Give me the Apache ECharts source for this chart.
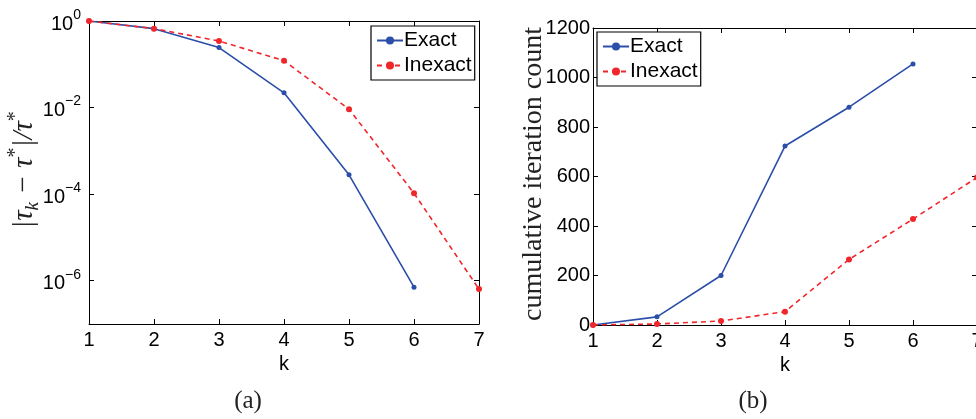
<!DOCTYPE html>
<html>
<head>
<meta charset="utf-8">
<script src="https://cdn.jsdelivr.net/npm/echarts@6/dist/echarts.min.js"></script>
<style>html,body{margin:0;padding:0;background:#fff}#c{width:976px;height:419px}</style>
</head>
<body>
<div id="c"></div>
<script>
// ---- data ----
var kExact = [1, 2, 3, 4, 5, 6];
var kInexact = [1, 2, 3, 4, 5, 6, 7];
var errExact = [1, 0.665, 0.243, 0.0219, 2.8e-4, 7.1e-7];
var errInexact = [1, 0.665, 0.346, 0.121, 0.0092, 1.05e-4, 6.4e-7];
var iterExact = [0, 33, 200, 723, 880, 1055];
var iterInexact = [0, 4, 16, 54, 265, 428, 596];
var logTicks = [1e-6, 1e-4, 1e-2, 1];
var seriesNames = ['Exact', 'Inexact'];
var yTitleRight = 'cumulative iteration count';
var captions = ['(a)', '(b)'];

function pairs(xs, ys) { return xs.map(function (x, i) { return [x, ys[i]]; }); }

var BLUE = '#2b4ea8', RED = '#f0262b';
var SANS = 'Liberation Sans', SERIF = 'Liberation Serif';
var lblFont = { fontFamily: SANS, fontSize: 20, color: '#000' };

function xAx(gi, pos, show) {
  return {
    type: 'value', gridIndex: gi, position: pos, min: 1, max: 7, interval: 1,
    axisLine: { show: true, onZero: false, lineStyle: { color: '#000', width: 1 } },
    axisTick: { show: true, inside: true, length: 5, lineStyle: { color: '#000' } },
    splitLine: { show: false },
    axisLabel: Object.assign({ show: show, margin: 6 }, lblFont),
    name: show ? 'k' : '', nameLocation: 'middle', nameGap: 24,
    nameTextStyle: { fontFamily: SANS, fontSize: 20, color: '#000' }
  };
}

var yLeftBase = {
  type: 'log', logBase: 10, min: 1e-7, max: 1,
  axisLine: { show: true, onZero: false, lineStyle: { color: '#000', width: 1 } },
  axisTick: { show: true, inside: true, length: 5, customValues: logTicks, lineStyle: { color: '#000' } },
  splitLine: { show: false }, minorTick: { show: false }
};
var yLeft = Object.assign({}, yLeftBase, {
  gridIndex: 0, position: 'left',
  axisLabel: {
    show: true, margin: 8, customValues: logTicks,
    formatter: function (v) {
      var e = Math.round(Math.log10(v));
      return '{b|10}{e|' + (e < 0 ? '\u2212' + (-e) : e) + '}';
    },
    rich: {
      b: { fontFamily: SANS, fontSize: 20, color: '#000', verticalAlign: 'bottom', lineHeight: 26 },
      e: { fontFamily: SANS, fontSize: 14, color: '#000', verticalAlign: 'top', lineHeight: 26, padding: [0, 0, 12, 0] }
    }
  }
});
var yLeftR = Object.assign({}, yLeftBase, { gridIndex: 0, position: 'right', axisLabel: { show: false } });

function yLin(gi, pos, show) {
  return {
    type: 'value', gridIndex: gi, position: pos, min: 0, max: 1200, interval: 200,
    axisLine: { show: true, onZero: false, lineStyle: { color: '#000', width: 1 } },
    axisTick: { show: true, inside: true, length: 5, lineStyle: { color: '#000' } },
    splitLine: { show: false },
    axisLabel: Object.assign({ show: show, margin: 3, formatter: function (v) { return String(v); } }, lblFont)
  };
}

function legend(left, top) {
  return {
    orient: 'vertical', left: left, top: top, data: seriesNames,
    backgroundColor: '#fff', borderColor: '#000', borderWidth: 1.2,
    padding: [3, 3, 3, 5], itemGap: 2, itemWidth: 26, itemHeight: 10,
    textStyle: { fontFamily: SANS, fontSize: 21, color: '#000', padding: [0, 0, 0, -4], lineHeight: 23 }
  };
}

var option = {
  animation: false,
  grid: [
    { left: 89, right: 497, top: 21, bottom: 95, outerBoundsMode: 'none', containLabel: false },
    { left: 593, right: -1, top: 28, bottom: 94, outerBoundsMode: 'none', containLabel: false }
  ],
  xAxis: [xAx(0, 'bottom', true), xAx(0, 'top', false), xAx(1, 'bottom', true), xAx(1, 'top', false)],
  yAxis: [yLeft, yLeftR, yLin(1, 'left', true), yLin(1, 'right', false)],
  legend: [legend(371, 26), legend(597, 32)],
  series: [
    { name: seriesNames[0], type: 'line', xAxisIndex: 0, yAxisIndex: 0, data: pairs(kExact, errExact),
      color: BLUE, symbol: 'circle', symbolSize: 5, lineStyle: { width: 1.6, color: BLUE }, itemStyle: { color: BLUE } },
    { name: seriesNames[1], type: 'line', xAxisIndex: 0, yAxisIndex: 0, data: pairs(kInexact, errInexact),
      color: RED, symbol: 'circle', symbolSize: 6, lineStyle: { width: 1.6, color: RED, type: [5, 4] }, itemStyle: { color: RED } },
    { name: seriesNames[0], type: 'line', xAxisIndex: 2, yAxisIndex: 2, data: pairs(kExact, iterExact),
      color: BLUE, symbol: 'circle', symbolSize: 5, lineStyle: { width: 1.6, color: BLUE }, itemStyle: { color: BLUE } },
    { name: seriesNames[1], type: 'line', xAxisIndex: 2, yAxisIndex: 2, data: pairs(kInexact, iterInexact),
      color: RED, symbol: 'circle', symbolSize: 6, lineStyle: { width: 1.6, color: RED, type: [5, 4] }, itemStyle: { color: RED } }
  ],
  graphic: [
    { type: 'text', x: 24, y: 170, rotation: Math.PI / 2,
      style: {
        text: '{a||\u03C4}{s|k}{a| \u2212 \u03C4}{p|*}{a||/\u03C4}{p|*}',
        align: 'center', verticalAlign: 'middle',
        rich: {
          a: { fontFamily: SERIF, fontStyle: 'italic', fontSize: 29, fill: '#222', lineHeight: 36, verticalAlign: 'middle' },
          s: { fontFamily: SERIF, fontStyle: 'italic', fontSize: 19, fill: '#222', lineHeight: 36, verticalAlign: 'bottom' },
          p: { fontFamily: SERIF, fontSize: 20, fill: '#222', lineHeight: 36, verticalAlign: 'top' }
        }
      } },
    { type: 'text', x: 534, y: 174, rotation: Math.PI / 2,
      style: { text: yTitleRight, align: 'center', verticalAlign: 'middle', fontFamily: SERIF, fontSize: 28, fill: '#222' } },
    { type: 'text', x: 248, y: 401, style: { text: captions[0], align: 'center', verticalAlign: 'middle', fontFamily: SERIF, fontSize: 25, fill: '#222' } },
    { type: 'text', x: 753, y: 401, style: { text: captions[1], align: 'center', verticalAlign: 'middle', fontFamily: SERIF, fontSize: 25, fill: '#222' } }
  ]
};

var chart = echarts.init(document.getElementById('c'), null, { renderer: 'canvas' });
chart.setOption(option);
</script>
</body>
</html>
